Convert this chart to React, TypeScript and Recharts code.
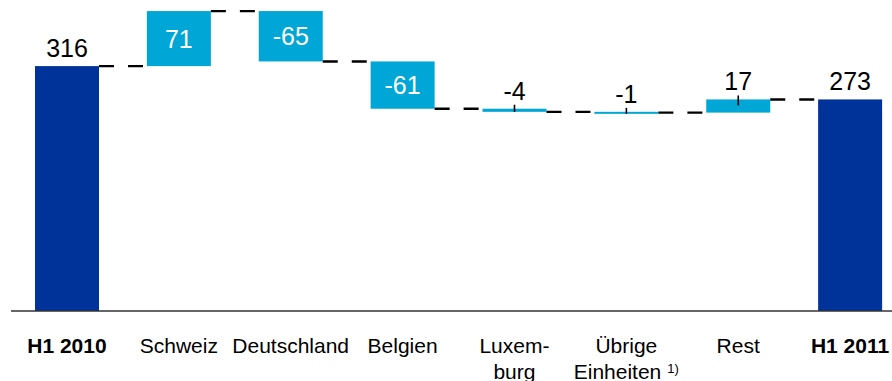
import { ComposedChart, Bar, XAxis, YAxis, LabelList } from "recharts";

// Waterfall: H1 2010 -> H1 2011 by region
const categories = [
  "H1 2010",
  "Schweiz",
  "Deutschland",
  "Belgien",
  "Luxemburg",
  "Übrige Einheiten",
  "Rest",
  "H1 2011",
];
const changes = [316, 71, -65, -61, -4, -1, 17, 273];
const totals = [true, false, false, false, false, false, false, true];
const tickLines: string[][] = [
  ["H1 2010"],
  ["Schweiz"],
  ["Deutschland"],
  ["Belgien"],
  ["Luxem-", "burg"],
  ["Übrige", "Einheiten"],
  ["Rest"],
  ["H1 2011"],
];
const footnotes = ["", "", "", "", "", "1)", "", ""];

const DARK = "#003399";
const LIGHT = "#00A6D6";
const FONT = "'Liberation Sans', Arial, sans-serif";

const W = 906;
const H = 381;
const MARGIN = { top: 1, right: 0, bottom: 0, left: 11 };
const STEP = (W - MARGIN.left - MARGIN.right) / categories.length;

// running totals -> invisible base + visible step
let running = 0;
const rows = categories.map((name, i) => {
  const v = changes[i];
  if (totals[i]) {
    running = v;
    return { name, base: 0, size: v, change: v, total: true, down: false, hasNext: i < categories.length - 1 };
  }
  const start = running;
  running += v;
  return {
    name,
    base: Math.min(start, running),
    size: Math.abs(v),
    change: v,
    total: false,
    down: v < 0,
    hasNext: i < categories.length - 1,
  };
});

function WaterfallBar(props: any) {
  const { x, y, width, height, payload } = props;
  const h = Math.max(height, 2);
  const endY = payload.down ? y + height : y;
  return (
    <g>
      <rect x={x} y={y} width={width} height={h} fill={payload.total ? DARK : LIGHT} />
      {payload.hasNext && (
        <line
          x1={x + width}
          x2={x + STEP}
          y1={endY}
          y2={endY}
          stroke="#000"
          strokeWidth={2.4}
          strokeDasharray="15 14"
        />
      )}
    </g>
  );
}

function ValueLabel(props: any) {
  const { x, y, width, height, value, index } = props;
  const cx = x + width / 2;
  const text = String(value);
  if (totals[index]) {
    return (
      <text x={cx} y={y - 9} textAnchor="middle" fontSize={25} fontFamily={FONT} fill="#000">
        {text}
      </text>
    );
  }
  if (Math.abs(value) < 30) {
    const bottom = y + Math.max(height, 2);
    return (
      <g>
        <text x={cx} y={y - 9} textAnchor="middle" fontSize={25} fontFamily={FONT} fill="#000">
          {text}
        </text>
        <line x1={cx} x2={cx} y1={y - 4} y2={Math.min(y + 6, bottom)} stroke="#000" strokeWidth={1.6} />
      </g>
    );
  }
  return (
    <text x={cx} y={y + height / 2 + 9} textAnchor="middle" fontSize={25} fontFamily={FONT} fill="#fff">
      {text}
    </text>
  );
}

function CategoryTick(props: any) {
  const { x, y, payload } = props;
  const i = categories.indexOf(payload.value);
  const lines = tickLines[i];
  return (
    <text
      x={x}
      textAnchor="middle"
      fontSize={21}
      fontFamily={FONT}
      fontWeight={totals[i] ? 700 : 400}
      fill="#000"
    >
      {lines.map((line, k) => (
        <tspan key={k} x={x} y={y + 34 + k * 25.5}>
          {line}
          {k === lines.length - 1 && footnotes[i] && (
            <tspan dx={6} dy={-6} fontSize={13}>
              {footnotes[i]}
            </tspan>
          )}
        </tspan>
      ))}
    </text>
  );
}

export default function App() {
  return (
    <div style={{ position: "absolute", left: 0, top: 0, width: 892, height: H, overflow: "hidden", background: "#fff" }}>
      <ComposedChart width={W} height={H} data={rows} margin={MARGIN} barSize={64}>
        <XAxis
          dataKey="name"
          interval={0}
          height={70}
          tickLine={false}
          axisLine={{ stroke: "#333", strokeWidth: 1.6 }}
          tick={<CategoryTick />}
        />
        <YAxis hide domain={[0, 400]} allowDataOverflow />
        <Bar dataKey="base" stackId="w" fill="transparent" isAnimationActive={false} />
        <Bar dataKey="size" stackId="w" shape={<WaterfallBar />} isAnimationActive={false}>
          <LabelList dataKey="change" content={<ValueLabel />} />
        </Bar>
      </ComposedChart>
    </div>
  );
}
